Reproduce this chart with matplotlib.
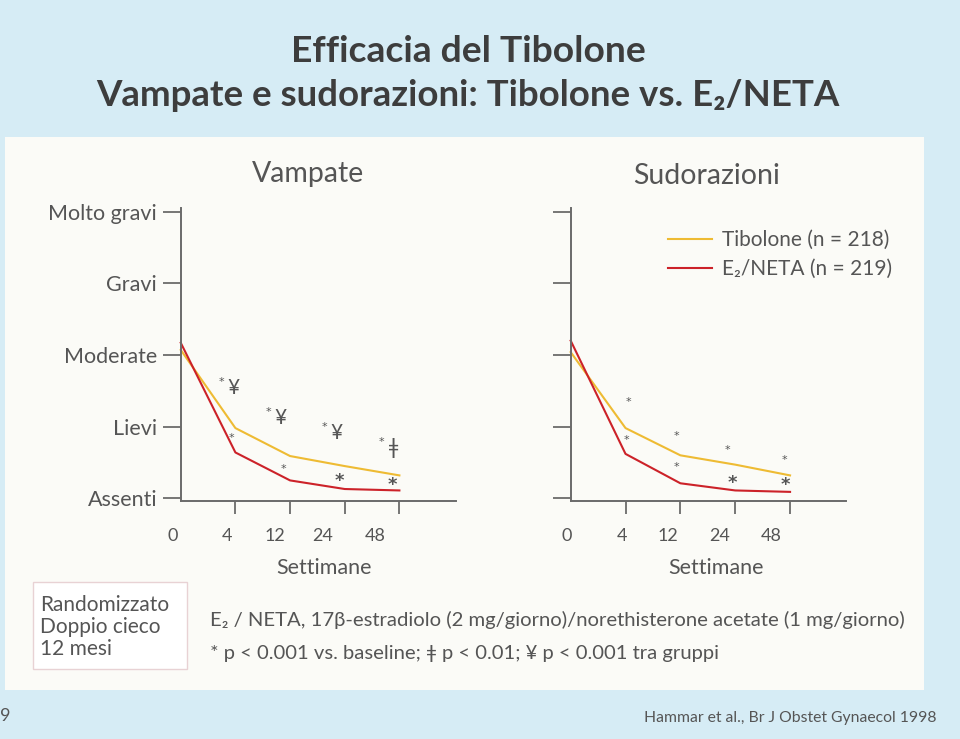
import matplotlib
matplotlib.use("Agg")
import matplotlib.pyplot as plt
from matplotlib.patches import Rectangle
from matplotlib.lines import Line2D

plt.rcParams['font.family'] = ['Lato', 'DejaVu Sans']

# data (0 = Assenti ... 4 = Molto gravi)
weeks = ['0', '4', '12', '24', '48']
levels = ['Assenti', 'Lievi', 'Moderate', 'Gravi', 'Molto gravi']
vamp_tib = [2.07, 0.98, 0.59, 0.45, 0.32]
vamp_e2 = [2.17, 0.64, 0.25, 0.13, 0.11]
sud_tib = [2.04, 0.98, 0.60, 0.47, 0.32]
sud_e2 = [2.20, 0.62, 0.21, 0.11, 0.09]

# significance marks: (x index, level, symbol)
vamp_marks = [(0.90, 1.54, '¥'), (1.76, 1.12, '¥'), (2.79, 0.91, '¥'), (3.83, 0.70, 'ǂ')]
vamp_stars = [(0.93, 0.84, 'small'), (1.87, 0.41, 'small'), (2.91, 0.24, 'big'), (3.88, 0.19, 'big')]
sud_stars = [(1.05, 1.35, 'small'), (1.01, 0.81, 'small'), (1.93, 0.87, 'small'), (1.93, 0.44, 'small'),
             (2.86, 0.67, 'small'), (2.94, 0.22, 'big'), (3.90, 0.53, 'small'), (3.92, 0.19, 'big')]

YELLOW = '#eebb33'
RED = '#cc2229'
GREY = '#6b6b6b'
TXT = '#555555'

fig = plt.figure(figsize=(9.6, 7.39), dpi=100, facecolor='#d6ecf5')
W, H = 960, 739

fig.patches.append(Rectangle((5 / W, 1 - 690 / H), 919 / W, 553 / H, transform=fig.transFigure,
                             fc='#fbfbf7', ec='none', zorder=-3))
fig.patches.append(Rectangle((33 / W, 1 - 669 / H), 154 / W, 87 / H, transform=fig.transFigure,
                             fc='white', ec='#e8d2d4', lw=1, zorder=-2))

# axes start a little left of the y spine so the "0" label fits inside the x range
ax1 = fig.add_axes([169.8 / W, 1 - 500.7 / H, 285.9 / W, 292.7 / H])
ax2 = fig.add_axes([559.7 / W, 1 - 500.7 / H, 286.3 / W, 292.7 / H])

x = list(range(len(weeks)))
for ax, tib, e2, lab_pos, xmax in [(ax1, vamp_tib, vamp_e2, [-0.15, 0.85, 1.73, 2.60, 3.56], 5.03),
                                   (ax2, sud_tib, sud_e2, [-0.07, 0.94, 1.78, 2.71, 3.65], 5.02)]:
    ax.set_facecolor('none')
    ax.plot(x, tib, color=YELLOW, lw=1.5, clip_on=False)
    ax.plot(x, e2, color=RED, lw=1.5, clip_on=False)
    for s in ['top', 'right']:
        ax.spines[s].set_visible(False)
    for s in ['left', 'bottom']:
        ax.spines[s].set_color(GREY)
        ax.spines[s].set_linewidth(1.4)
    ax.spines['left'].set_position(('data', 0))
    ax.spines['bottom'].set_bounds(0, xmax)
    ax.set_yticks(range(len(levels)))
    ax.tick_params(axis='y', length=13, width=1.3, color=GREY, pad=4, labelsize=15.5, labelcolor=TXT)
    ax.set_xticks([1, 2, 3, 4], [])
    ax.tick_params(axis='x', which='major', length=9.4, width=1.3, color=GREY)
    # week labels sit a bit left of their ticks, as in the original slide
    ax.set_xticks(lab_pos, weeks, minor=True)
    ax.tick_params(axis='x', which='minor', length=0, pad=20, labelsize=13, labelcolor=TXT)
    ax.set_xlim(-0.2, xmax)
    ax.set_ylim(-0.033, 4.05)

ax1.set_yticklabels(levels)
ax2.set_yticklabels([])

fig.text(324 / W, 1 - 568 / H, 'Settimane', ha='center', va='center', fontsize=15.5, color=TXT)
fig.text(716 / W, 1 - 568 / H, 'Settimane', ha='center', va='center', fontsize=15.5, color=TXT)
fig.text(308 / W, 1 - 174 / H, 'Vampate', ha='center', va='center', fontsize=20.5, color=TXT)
fig.text(707 / W, 1 - 176 / H, 'Sudorazioni', ha='center', va='center', fontsize=20.5, color=TXT)

for mx, my, sym in vamp_marks:
    ax1.text(mx + 0.06, my, sym, ha='center', va='center', fontsize=15, color=TXT)
    ax1.text(mx - 0.16, my + 0.08, '*', ha='center', va='center', fontsize=8,
             family='DejaVu Sans', color=TXT)
for ax, stars in [(ax1, vamp_stars), (ax2, sud_stars)]:
    for sx, sy, kind in stars:
        ax.text(sx, sy, '*', ha='center', va='center', fontsize=13 if kind == 'big' else 8,
                family='DejaVu Sans', color=TXT, fontweight='bold' if kind == 'big' else 'normal')

handles = [Line2D([], [], color=YELLOW, lw=1.5), Line2D([], [], color=RED, lw=1.5)]
ax2.legend(handles, ['Tibolone (n = 218)', 'E₂/NETA (n = 219)'], loc='upper left',
           bbox_to_anchor=((668 - 559.7) / 286.3, 0.925), frameon=False, fontsize=15, labelcolor=TXT,
           handlelength=2.1, handletextpad=0.5, labelspacing=0.45, borderpad=0, borderaxespad=0)

fig.text(468 / W, 1 - 52 / H, 'Efficacia del Tibolone', ha='center', va='center',
         fontsize=26.8, fontweight='bold', color='#3d3d3d')
fig.text(468 / W, 1 - 95 / H, 'Vampate e sudorazioni: Tibolone vs. E₂/NETA', ha='center', va='center',
         fontsize=26.4, fontweight='bold', color='#3d3d3d')

for i, line in enumerate(['Randomizzato', 'Doppio cieco', '12 mesi']):
    fig.text(40 / W, 1 - (605 + 22 * i) / H, line, ha='left', va='center', fontsize=15, color=TXT)

fig.text(210 / W, 1 - 620 / H,
         'E₂ / NETA, 17β-estradiolo (2 mg/giorno)/norethisterone acetate (1 mg/giorno)',
         ha='left', va='center', fontsize=14.6, color=TXT)
fig.text(210 / W, 1 - 653 / H, '* p < 0.001 vs. baseline; ǂ p < 0.01; ¥ p < 0.001 tra gruppi',
         ha='left', va='center', fontsize=14.6, color=TXT)

fig.text(0 / W, 1 - 716 / H, '9', ha='left', va='center', fontsize=13, color=TXT)
fig.text(937 / W, 1 - 718 / H, 'Hammar et al., Br J Obstet Gynaecol 1998', ha='right', va='center',
         fontsize=11.3, color=TXT)

fig.savefig('out.png', dpi=100, facecolor=fig.get_facecolor())
